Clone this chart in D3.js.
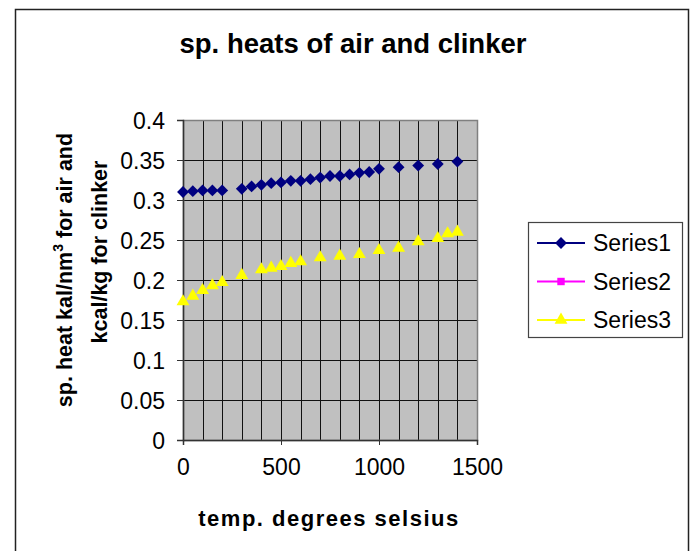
<!DOCTYPE html>
<html>
<head>
<meta charset="utf-8">
<script src="https://cdn.jsdelivr.net/npm/d3@7"></script>
<style>
body { margin: 0; background: #fff; }
text { font-family: Arial, "Liberation Sans", sans-serif; }
</style>
</head>
<body>
<svg id="chart"></svg>
<script>
//Data
var series1X = [0, 50, 100, 150, 200, 300, 350, 400, 450, 500, 550, 600, 650, 700, 750, 800, 850, 900, 950, 1000, 1100, 1200, 1300, 1400];
var series1Y = [0.310, 0.311, 0.312, 0.312, 0.312, 0.314, 0.317, 0.319, 0.321, 0.322, 0.324, 0.324, 0.326, 0.328, 0.330, 0.330, 0.332, 0.334, 0.335, 0.339, 0.341, 0.343, 0.345, 0.348];
var series2X = [];
var series2Y = [];
var series3X = [0, 50, 100, 150, 200, 300, 400, 450, 500, 550, 600, 700, 800, 900, 1000, 1100, 1200, 1300, 1350, 1400];
var series3Y = [0.173, 0.180, 0.187, 0.193, 0.197, 0.206, 0.213, 0.215, 0.217, 0.221, 0.223, 0.228, 0.230, 0.232, 0.237, 0.240, 0.248, 0.252, 0.258, 0.260];
var seriesNames = ["Series1", "Series2", "Series3"];
var xTicks = [0, 500, 1000, 1500];
var yTicks = [0, 0.05, 0.1, 0.15, 0.2, 0.25, 0.3, 0.35, 0.4];
var xGrid = [100, 200, 300, 400, 500, 600, 700, 800, 900, 1000, 1100, 1200, 1300, 1400];

//Size of the page and the plot area
var svgWidth = 696;
var svgHeight = 551;
var plotLeft = 183, plotRight = 477, plotTop = 120, plotBottom = 440;

var svg = d3.select("#chart")
    .attr("width", svgWidth)
    .attr("height", svgHeight);

//Outer chart border
svg.append("rect")
    .attr("x", 15.5).attr("y", 9.5)
    .attr("width", 673).attr("height", 560)
    .attr("fill", "#fff").attr("stroke", "#222").attr("stroke-width", 1.5);

var x = d3.scaleLinear([0, 1500], [plotLeft, plotRight]);
var y = d3.scaleLinear([0, 0.4], [plotBottom, plotTop]);

//Plot background
svg.append("rect")
    .attr("x", plotLeft).attr("y", plotTop)
    .attr("width", plotRight - plotLeft).attr("height", plotBottom - plotTop)
    .attr("fill", "#c0c0c0");

//Grid lines
svg.append("g").selectAll("line")
    .data(xGrid)
    .enter().append("line")
    .attr("x1", function (d) { return Math.round(x(d)) + 0.5; })
    .attr("x2", function (d) { return Math.round(x(d)) + 0.5; })
    .attr("y1", plotTop).attr("y2", plotBottom)
    .attr("stroke", "#111").attr("stroke-width", 1);

svg.append("g").selectAll("line")
    .data(yTicks.slice(1, -1))
    .enter().append("line")
    .attr("y1", function (d) { return Math.round(y(d)) + 0.5; })
    .attr("y2", function (d) { return Math.round(y(d)) + 0.5; })
    .attr("x1", plotLeft).attr("x2", plotRight)
    .attr("stroke", "#111").attr("stroke-width", 1);

//Plot border
svg.append("rect")
    .attr("x", plotLeft + 0.5).attr("y", plotTop + 0.5)
    .attr("width", plotRight - plotLeft).attr("height", plotBottom - plotTop)
    .attr("fill", "none").attr("stroke", "#808080").attr("stroke-width", 1.5);

//Axes
var xAxis = d3.axisBottom(x)
    .tickValues(xTicks)
    .tickFormat(d3.format("d"))
    .tickSize(5)
    .tickPadding(14);
var gx = svg.append("g")
    .attr("transform", "translate(0," + plotBottom + ")")
    .call(xAxis);

var yAxis = d3.axisLeft(y)
    .tickValues(yTicks)
    .tickFormat(function (d) { return String(+d.toFixed(2)); })
    .tickSize(6)
    .tickPadding(12);
var gy = svg.append("g")
    .attr("transform", "translate(" + plotLeft + ",0)")
    .call(yAxis);

svg.selectAll(".domain").attr("stroke", "#333").attr("stroke-width", 1.5);
svg.selectAll(".tick line").attr("stroke", "#333");
svg.selectAll(".tick text")
    .attr("font-size", 23).attr("fill", "#000")
    .style("font-family", "Arial, 'Liberation Sans', sans-serif");
gy.selectAll(".tick text").attr("dy", "0.36em");

//Markers
var diamond = d3.symbol().type(d3.symbolSquare).size(70);
var triangle = d3.symbol().type(d3.symbolTriangle).size(72);
var square = d3.symbol().type(d3.symbolSquare).size(55);

svg.append("g").selectAll("path")
    .data(series1X)
    .enter().append("path")
    .attr("d", diamond)
    .attr("fill", "#000080")
    .attr("transform", function (d, i) {
        return "translate(" + x(d) + "," + y(series1Y[i]) + ") rotate(45)";
    });

svg.append("g").selectAll("path")
    .data(series2X)
    .enter().append("path")
    .attr("d", square)
    .attr("fill", "#ff00ff")
    .attr("transform", function (d, i) {
        return "translate(" + x(d) + "," + y(series2Y[i]) + ")";
    });

svg.append("g").selectAll("path")
    .data(series3X)
    .enter().append("path")
    .attr("d", triangle)
    .attr("fill", "#ffff00")
    .attr("transform", function (d, i) {
        return "translate(" + x(d) + "," + y(series3Y[i]) + ")";
    });

//Title
svg.append("text")
    .attr("x", 353).attr("y", 53)
    .attr("text-anchor", "middle")
    .attr("font-size", 27.5).attr("font-weight", "bold")
    .text("sp. heats of air and clinker");

//X axis title
svg.append("text")
    .attr("x", 329).attr("y", 526)
    .attr("text-anchor", "middle")
    .attr("font-size", 22).attr("font-weight", "bold")
    .attr("letter-spacing", 1.5)
    .text("temp. degrees selsius");

//Y axis title, two lines
var yt1 = svg.append("text")
    .attr("transform", "translate(72,270) rotate(-90)")
    .attr("text-anchor", "middle")
    .attr("font-size", 21.5).attr("font-weight", "bold");
yt1.append("tspan").text("sp. heat kal/nm");
yt1.append("tspan").attr("font-size", 14).attr("dy", -9).text("3");
yt1.append("tspan").attr("dy", 9).text(" for air and");

svg.append("text")
    .attr("transform", "translate(107,252) rotate(-90)")
    .attr("text-anchor", "middle")
    .attr("font-size", 21.5).attr("font-weight", "bold")
    .text("kcal/kg for clinker");

//Legend
var legend = svg.append("g");
legend.append("rect")
    .attr("x", 528.5).attr("y", 222.5)
    .attr("width", 154).attr("height", 115)
    .attr("fill", "#fff").attr("stroke", "#444").attr("stroke-width", 1.2);

var legendColors = ["#000080", "#ff00ff", "#ffff00"];
var legendSymbols = [diamond, square, triangle];
var legendY = d3.scalePoint(seriesNames, [243, 320]);

var rows = legend.selectAll("g.row")
    .data(seriesNames)
    .enter().append("g")
    .attr("class", "row")
    .attr("transform", function (d) { return "translate(0," + legendY(d) + ")"; });

rows.append("line")
    .attr("x1", 537).attr("x2", 585)
    .attr("stroke", function (d, i) { return legendColors[i]; })
    .attr("stroke-width", 2);

rows.append("path")
    .attr("d", function (d, i) { return legendSymbols[i](); })
    .attr("fill", function (d, i) { return legendColors[i]; })
    .attr("transform", function (d, i) {
        return "translate(561,0)" + (i === 0 ? " rotate(45)" : "");
    });

rows.append("text")
    .attr("x", 593).attr("dy", "0.36em")
    .attr("font-size", 23)
    .text(function (d) { return d; });
</script>
</body>
</html>
